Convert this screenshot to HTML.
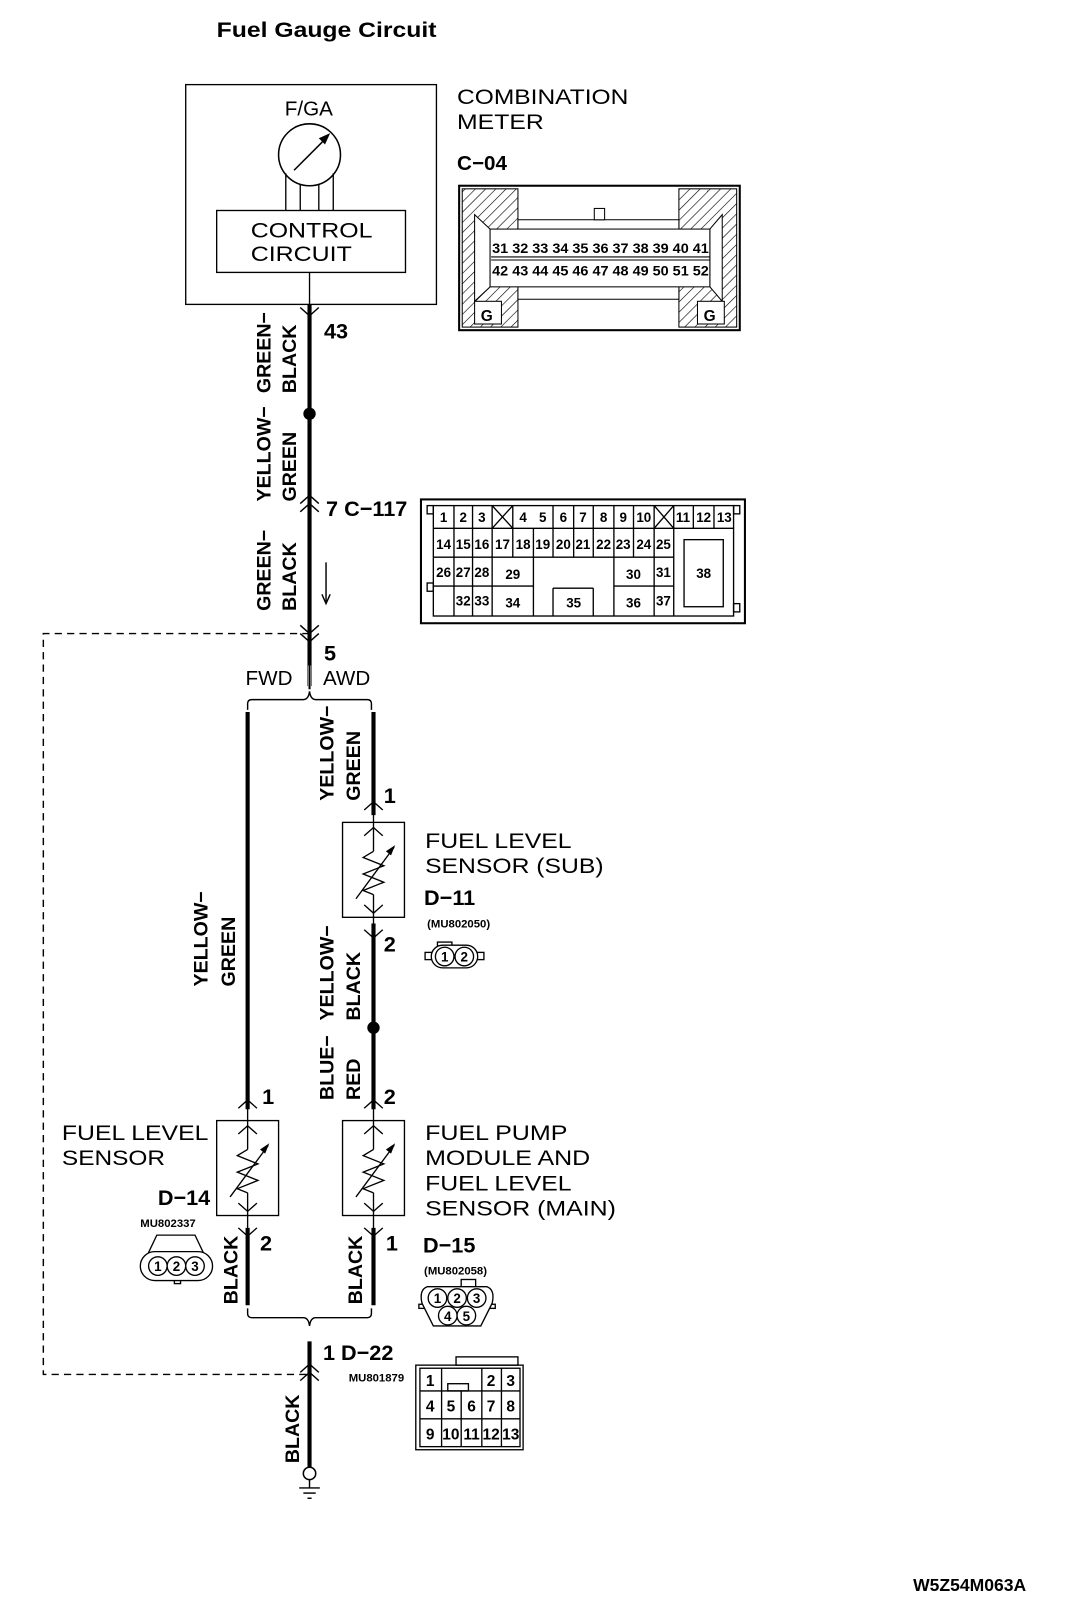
<!DOCTYPE html>
<html><head><style>
html,body{margin:0;padding:0;background:#fff}
svg{display:block}
text{font-family:"Liberation Sans",sans-serif;fill:#000}
.b{font-weight:bold}
</style></head><body>
<svg width="1072" height="1620" viewBox="0 0 1039 1570" preserveAspectRatio="none" xmlns="http://www.w3.org/2000/svg">
<defs>
<g id="sensor">
 <rect x="0" y="0" width="60" height="92" fill="none" stroke="#000" stroke-width="1.3"/>
 <line x1="30" y1="-25" x2="30" y2="28" stroke="#000" stroke-width="1.3"/>
 <line x1="30" y1="70" x2="30" y2="115" stroke="#000" stroke-width="1.3"/>
 <polyline points="30,28 20,34 40,42 20,50 40,58 20,66 30,70" fill="none" stroke="#000" stroke-width="1.3"/>
 <polyline points="21,-12 30,-20 39,-12" fill="none" stroke="#000" stroke-width="1.3"/>
 <polyline points="21,13 30,5 39,13" fill="none" stroke="#000" stroke-width="1.3"/>
 <polyline points="21,80 30,88 39,80" fill="none" stroke="#000" stroke-width="1.3"/>
 <polyline points="21,104 30,112 39,104" fill="none" stroke="#000" stroke-width="1.3"/>
 <line x1="13" y1="74" x2="50" y2="24" stroke="#000" stroke-width="1.3"/>
 <polygon points="51,22 42,28 47,32" fill="#000"/>
</g>
</defs>

<text x="210" y="36" class="b" font-size="21" textLength="213" lengthAdjust="spacingAndGlyphs">Fuel Gauge Circuit</text>

<!-- combination meter box -->
<rect x="180" y="82" width="243" height="213" fill="none" stroke="#000" stroke-width="1.3"/>
<text x="276" y="112" font-size="20">F/GA</text>
<circle cx="300" cy="150" r="30" fill="none" stroke="#000" stroke-width="1.5"/>
<line x1="285" y1="165" x2="318" y2="132" stroke="#000" stroke-width="1.5"/>
<polygon points="320,129 309,134 315,140" fill="#000"/>
<g stroke="#000" stroke-width="1.3">
<line x1="277" y1="168" x2="277" y2="204"/><line x1="291" y1="178" x2="291" y2="204"/>
<line x1="309" y1="178" x2="309" y2="204"/><line x1="323" y1="168" x2="323" y2="204"/>
<line x1="300" y1="264" x2="300" y2="295"/>
</g>
<rect x="210" y="204" width="183" height="60" fill="none" stroke="#000" stroke-width="1.3"/>
<text x="243" y="230" font-size="21" textLength="118" lengthAdjust="spacingAndGlyphs">CONTROL</text>
<text x="243" y="253" font-size="21" textLength="98" lengthAdjust="spacingAndGlyphs">CIRCUIT</text>
<text x="443" y="101" font-size="21" textLength="166" lengthAdjust="spacingAndGlyphs">COMBINATION</text>
<text x="443" y="125" font-size="21" textLength="84" lengthAdjust="spacingAndGlyphs">METER</text>
<text x="443" y="165" class="b" font-size="20">C−04</text>

<!-- C-04 connector -->
<defs><pattern id="h" width="7" height="7" patternUnits="userSpaceOnUse" patternTransform="rotate(45)"><line x1="0" y1="0" x2="0" y2="7" stroke="#000" stroke-width="1.2"/></pattern></defs>
<rect x="445" y="180" width="272" height="140" fill="#fff" stroke="#000" stroke-width="2"/>
<rect x="448" y="183" width="54" height="134" fill="url(#h)" stroke="#000"/>
<rect x="658" y="183" width="56" height="134" fill="url(#h)" stroke="#000"/>
<polygon points="502,213 658,213 658,290 502,290" fill="#fff" stroke="#000"/>
<polygon points="460,208 475,222 475,278 460,292" fill="#fff" stroke="#000"/>
<polygon points="700,208 688,222 688,278 700,292" fill="#fff" stroke="#000"/>
<rect x="475" y="222" width="213" height="56" fill="#fff" stroke="#000"/>
<rect x="576" y="202" width="10" height="11" fill="#fff" stroke="#000"/>
<rect x="460" y="292" width="26" height="22" fill="#fff" stroke="#000"/>
<text x="466" y="311" class="b" font-size="15">G</text>
<rect x="676" y="292" width="26" height="22" fill="#fff" stroke="#000"/>
<text x="682" y="311" class="b" font-size="15">G</text>
<g font-size="13" class="b">
<text x="477" y="245" textLength="210" lengthAdjust="spacingAndGlyphs">31 32 33 34 35 36 37 38 39 40 41</text>
<text x="477" y="267" textLength="210" lengthAdjust="spacingAndGlyphs">42 43 44 45 46 47 48 49 50 51 52</text>
</g>
<line x1="476" y1="249" x2="688" y2="249" stroke="#000"/>
<line x1="476" y1="252" x2="688" y2="252" stroke="#000"/>

<!-- main wire -->
<g stroke="#000" stroke-width="4">
<line x1="300" y1="295" x2="300" y2="665"/>
<line x1="240" y1="690" x2="240" y2="1075"/>
<line x1="362" y1="690" x2="362" y2="790"/>
<line x1="362" y1="895" x2="362" y2="1075"/>
<line x1="240" y1="1190" x2="240" y2="1265"/>
<line x1="362" y1="1190" x2="362" y2="1265"/>
<line x1="300" y1="1300" x2="300" y2="1422"/>
</g>
<g fill="none" stroke="#fff" stroke-width="3">
<line x1="300" y1="645" x2="300" y2="666"/>
</g>
<line x1="300" y1="645" x2="300" y2="668" stroke="#000" stroke-width="2"/>
<circle cx="300" cy="401" r="6" fill="#000"/>
<circle cx="362" cy="996" r="6" fill="#000"/>
<!-- chevrons -->
<g fill="none" stroke="#000" stroke-width="1.4">
<polyline points="291,298 300,306 309,298"/>
<polyline points="291,488 300,480 309,488"/><polyline points="291,496 300,488 309,496"/>
<polyline points="291,606 300,614 309,606"/><polyline points="291,614 300,622 309,614"/>
<polyline points="291,1330 300,1322 309,1330"/><polyline points="291,1338 300,1330 309,1338"/>
<path d="M240,688 v-6 q0,-4 4,-4 h50 q5,0 6,-8 q1,8 6,8 h50 q4,0 4,4 v6"/>
<path d="M240,1268 v5 q0,4 4,4 h50 q5,0 6,8 q1,-8 6,-8 h50 q4,0 4,-4 v-5"/>
<polyline points="300,614 42,614 42,1332 300,1332" stroke-dasharray="7,5"/>
<line x1="316" y1="545" x2="316" y2="583"/>
</g>
<polyline points="312,576 316,585 320,576" fill="none" stroke="#000" stroke-width="1.4"/>
<!-- ground -->
<circle cx="300" cy="1428" r="6" fill="#fff" stroke="#000" stroke-width="1.5"/>
<g stroke="#000" stroke-width="1.4">
<line x1="300" y1="1434" x2="300" y2="1442"/>
<line x1="290" y1="1442" x2="310" y2="1442"/>
<line x1="294" y1="1447" x2="306" y2="1447"/>
<line x1="298" y1="1452" x2="302" y2="1452"/>
</g>

<!-- sensors -->
<use href="#sensor" x="332" y="797"/>
<use href="#sensor" x="332" y="1086"/>
<use href="#sensor" x="210" y="1086"/>

<!-- numbers -->
<g class="b" font-size="21">
<text x="314" y="328">43</text>
<text x="316" y="500">7 C−117</text>
<text x="314" y="640">5</text>
<text x="372" y="778">1</text>
<text x="372" y="922">2</text>
<text x="254" y="1070">1</text>
<text x="372" y="1070">2</text>
<text x="252" y="1212">2</text>
<text x="374" y="1212">1</text>
<text x="313" y="1318">1 D−22</text>
<text x="411" y="877">D−11</text>
<text x="153" y="1168">D−14</text>
<text x="410" y="1214">D−15</text>
</g>
<text x="238" y="664" font-size="20">FWD</text>
<text x="313" y="664" font-size="20">AWD</text>

<g font-size="21">
<text x="412" y="822" textLength="142" lengthAdjust="spacingAndGlyphs">FUEL LEVEL</text>
<text x="412" y="846" textLength="173" lengthAdjust="spacingAndGlyphs">SENSOR (SUB)</text>
<text x="412" y="1105" textLength="138" lengthAdjust="spacingAndGlyphs">FUEL PUMP</text>
<text x="412" y="1129" textLength="160" lengthAdjust="spacingAndGlyphs">MODULE AND</text>
<text x="412" y="1154" textLength="142" lengthAdjust="spacingAndGlyphs">FUEL LEVEL</text>
<text x="412" y="1178" textLength="185" lengthAdjust="spacingAndGlyphs">SENSOR (MAIN)</text>
<text x="60" y="1105" textLength="142" lengthAdjust="spacingAndGlyphs">FUEL LEVEL</text>
<text x="60" y="1129" textLength="100" lengthAdjust="spacingAndGlyphs">SENSOR</text>
</g>
<g class="b" font-size="11">
<text x="414" y="899">(MU802050)</text>
<text x="136" y="1189">MU802337</text>
<text x="411" y="1235">(MU802058)</text>
<text x="338" y="1339">MU801879</text>
</g>

<!-- vertical labels -->
<g class="b" font-size="19">
<text transform="translate(262,381) rotate(-90)">GREEN−</text><text transform="translate(287,381) rotate(-90)">BLACK</text>
<text transform="translate(262,486) rotate(-90)">YELLOW−</text><text transform="translate(287,486) rotate(-90)">GREEN</text>
<text transform="translate(262,592) rotate(-90)">GREEN−</text><text transform="translate(287,592) rotate(-90)">BLACK</text>
<text transform="translate(323,776) rotate(-90)">YELLOW−</text><text transform="translate(349,776) rotate(-90)">GREEN</text>
<text transform="translate(201,956) rotate(-90)">YELLOW−</text><text transform="translate(228,956) rotate(-90)">GREEN</text>
<text transform="translate(323,989) rotate(-90)">YELLOW−</text><text transform="translate(349,989) rotate(-90)">BLACK</text>
<text transform="translate(323,1066) rotate(-90)">BLUE−</text><text transform="translate(349,1066) rotate(-90)">RED</text>
<text transform="translate(230,1264) rotate(-90)">BLACK</text>
<text transform="translate(351,1264) rotate(-90)">BLACK</text>
<text transform="translate(290,1418) rotate(-90)">BLACK</text>
</g>

<!-- C-117 connector -->
<g stroke="#000" fill="none" stroke-width="1.3">
<rect x="408" y="484" width="314" height="120" stroke-width="2"/>
<rect x="420" y="490" width="291" height="107"/>
<rect x="414" y="490" width="6" height="8"/><rect x="711" y="490" width="6" height="8"/>
<rect x="414" y="565" width="6" height="8"/><rect x="711" y="585" width="6" height="8"/>
<line x1="420" y1="512" x2="711" y2="512"/>
<line x1="420" y1="540" x2="653" y2="540"/>
<line x1="420" y1="568" x2="517" y2="568"/>
<line x1="595" y1="568" x2="653" y2="568"/>
<line x1="536" y1="570" x2="575" y2="570"/>
<path d="M440,490V597 M458,490V597 M477,490V597 M497,490V540 M517,512V597 M536,490V540 M556,490V540 M575,490V540 M595,490V597 M614,490V540 M634,490V597 M653,490V597 M672,490V512 M692,490V512 M536,570V597 M575,570V597"/>
<path d="M477,490 L497,512 M497,490 L477,512 M634,490 L653,512 M653,490 L634,512"/>
<rect x="663" y="523" width="38" height="65"/>
</g>
<g class="b" font-size="13" text-anchor="middle">
<text x="430" y="506">1</text><text x="449" y="506">2</text><text x="467" y="506">3</text>
<text x="507" y="506">4</text><text x="526" y="506">5</text><text x="546" y="506">6</text><text x="565" y="506">7</text><text x="585" y="506">8</text><text x="604" y="506">9</text><text x="624" y="506">10</text>
<text x="662" y="506">11</text><text x="682" y="506">12</text><text x="702" y="506">13</text>
<text x="430" y="532">14</text><text x="449" y="532">15</text><text x="467" y="532">16</text>
<text x="487" y="532">17</text><text x="507" y="532">18</text><text x="526" y="532">19</text><text x="546" y="532">20</text><text x="565" y="532">21</text><text x="585" y="532">22</text><text x="604" y="532">23</text><text x="624" y="532">24</text><text x="643" y="532">25</text>
<text x="430" y="559">26</text><text x="449" y="559">27</text><text x="467" y="559">28</text>
<text x="497" y="561">29</text><text x="614" y="561">30</text><text x="643" y="559">31</text>
<text x="682" y="560">38</text>
<text x="449" y="587">32</text><text x="467" y="587">33</text>
<text x="497" y="589">34</text><text x="556" y="589">35</text><text x="614" y="589">36</text><text x="643" y="587">37</text>
</g>

<!-- D-11 small connector -->
<g stroke="#000" fill="#fff" stroke-width="1.3">
<rect x="424" y="913" width="14" height="7"/>
<rect x="412" y="923" width="7" height="7"/><rect x="462" y="923" width="7" height="7"/>
<rect x="418" y="916" width="45" height="22" rx="11"/>
<circle cx="431" cy="927" r="9"/><circle cx="450" cy="927" r="9"/>
</g>
<g class="b" font-size="13" text-anchor="middle"><text x="431" y="932">1</text><text x="450" y="932">2</text></g>

<!-- D-14 connector -->
<g stroke="#000" fill="#fff" stroke-width="1.3">
<rect x="169" y="1238" width="6" height="6"/>
<path d="M142,1218 L152,1197 L189,1197 L199,1218 Z"/>
<rect x="136" y="1213" width="70" height="28" rx="14"/>
<circle cx="153" cy="1227" r="9"/><circle cx="171" cy="1227" r="9"/><circle cx="189" cy="1227" r="9"/>
</g>
<g class="b" font-size="13" text-anchor="middle"><text x="153" y="1232">1</text><text x="171" y="1232">2</text><text x="189" y="1232">3</text></g>

<!-- D-15 connector -->
<g stroke="#000" fill="#fff" stroke-width="1.3">
<rect x="447" y="1240" width="14" height="7"/>
<rect x="406" y="1264" width="8" height="4"/><rect x="472" y="1264" width="8" height="4"/>
<path d="M414,1247 L472,1247 Q480,1250 477,1263 L466,1285 L420,1285 L409,1263 Q406,1250 414,1247 Z"/>
<circle cx="424" cy="1258" r="9"/><circle cx="443" cy="1258" r="9"/><circle cx="462" cy="1258" r="9"/>
<circle cx="434" cy="1275" r="9"/><circle cx="452" cy="1275" r="9"/>
</g>
<g class="b" font-size="13" text-anchor="middle"><text x="424" y="1263">1</text><text x="443" y="1263">2</text><text x="462" y="1263">3</text><text x="434" y="1280">4</text><text x="452" y="1280">5</text></g>

<!-- D-22 connector -->
<g stroke="#000" fill="none" stroke-width="1.3">
<rect x="442" y="1315" width="60" height="8"/>
<rect x="403" y="1323" width="104" height="82"/>
<rect x="407" y="1326" width="97" height="76"/>
<path d="M407,1348H504 M407,1375H504 M428,1326V1402 M467,1326V1402 M486,1326V1402 M447,1348V1402"/>
<rect x="434" y="1341" width="20" height="7"/>
</g>
<g class="b" font-size="15" text-anchor="middle">
<text x="417" y="1343">1</text><text x="476" y="1343">2</text><text x="495" y="1343">3</text>
<text x="417" y="1368">4</text><text x="437" y="1368">5</text><text x="457" y="1368">6</text><text x="476" y="1368">7</text><text x="495" y="1368">8</text>
<text x="417" y="1395">9</text><text x="437" y="1395">10</text><text x="457" y="1395">11</text><text x="476" y="1395">12</text><text x="495" y="1395">13</text>
</g>

<text x="885" y="1542" class="b" font-size="17">W5Z54M063A</text>
</svg>
</body></html>
